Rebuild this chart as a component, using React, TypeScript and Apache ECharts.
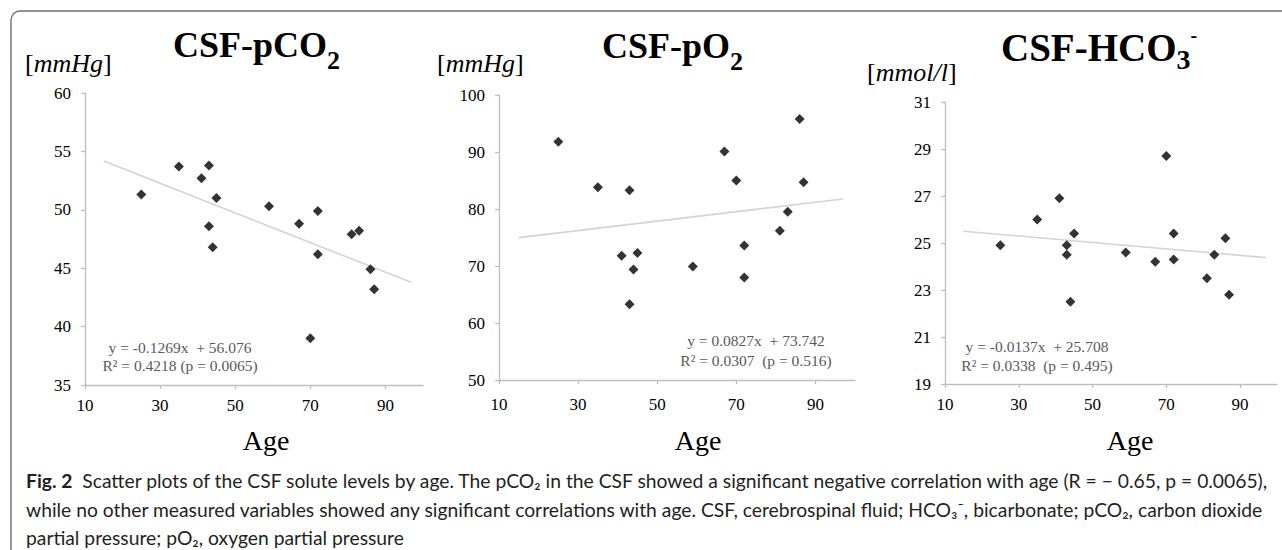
import React, { useEffect, useRef } from "react";
import * as echarts from "echarts";

// ---- data ----
const ages = [25, 35, 41, 43, 43, 44, 45, 59, 67, 70, 72, 72, 81, 83, 86, 87];
const pco2 = [51.3, 53.7, 52.7, 53.8, 48.6, 46.8, 51.0, 50.3, 48.8, 39.0, 49.9, 46.2, 47.9, 48.2, 44.9, 43.2];
const po2 = [91.8, 83.8, 71.8, 83.3, 63.3, 69.4, 72.3, 69.9, 90.1, 85.0, 73.6, 68.0, 76.2, 79.5, 95.8, 84.7];
const hco3 = [24.9, 26.0, 26.9, 24.9, 24.5, 22.5, 25.4, 24.6, 24.2, 28.7, 25.4, 24.3, 23.5, 24.5, 25.2, 22.8];

const xTicks = [10, 30, 50, 70, 90];
const yMins = [35, 50, 19];
const yMaxs = [60, 100, 31];
const yIntervals = [5, 10, 2];

const trendAges = [15, 97];
const slopes = [-0.1269, 0.0827, -0.0137];
const intercepts = [56.076, 73.742, 25.708];

const eqLine1 = ["y = -0.1269x  + 56.076", "y = 0.0827x  + 73.742", "y = -0.0137x  + 25.708"];
const eqLine2 = ["R² = 0.4218 (p = 0.0065)", "R² = 0.0307  (p = 0.516)", "R² = 0.0338  (p = 0.495)"];

// title pieces: [text, kind] where kind = m (main) / s (subscript) / p (superscript)
const titleParts: [string, string][][] = [
  [["CSF-pCO", "m"], ["2", "s"]],
  [["CSF-pO", "m"], ["2", "s"]],
  [["CSF-HCO", "m"], ["3", "s"], ["-", "p"]],
];
const units = ["{n|[}{i|mmHg}{n|]}", "{n|[}{i|mmHg}{n|]}", "{n|[}{i|mmol/l}{n|]}"];
const xName = "Age";

const captionLines = [
  "{b|Fig. 2}  Scatter plots of the CSF solute levels by age. The pCO₂ in the CSF showed a significant negative correlation with age (R = − 0.65, p = 0.0065),",
  "while no other measured variables showed any significant correlations with age. CSF, cerebrospinal fluid; HCO₃⁻, bicarbonate; pCO₂, carbon dioxide",
  "partial pressure; pO₂, oxygen partial pressure",
];

const seriesValues = [pco2, po2, hco3];

// ---- layout ----
const grids = [
  { left: 85, top: 93, width: 338, height: 292 },
  { left: 499, top: 95, width: 356, height: 285 },
  { left: 945, top: 102, width: 332, height: 282 },
];
const xLabelMargins = [12, 16, 12];
const titlePos = [
  [173, 45],
  [602, 46],
  [1001, 47],
];
const titleSizes = [
  { m: 36, s: 26, p: 20, sdy: 15, pdy: -10 },
  { m: 36, s: 26, p: 20, sdy: 15, pdy: -10 },
  { m: 39, s: 28, p: 20, sdy: 12, pdy: -12 },
];
const unitPos = [
  [25, 63],
  [437, 63],
  [867, 72],
];
const eqPos = [
  [180, 347, 365],
  [756, 340, 360],
  [1037, 346, 365],
];
const agePos = [
  [266, 440],
  [698, 440],
  [1130, 440],
];
const captionY = [480, 509, 537];

const SERIF = "'Liberation Serif', 'Times New Roman', serif";
const SANS = "Lato, 'Noto Sans', 'DejaVu Sans', sans-serif";
const AXIS_COLOR = "#bfbfbf";
const CAP = 19.3;

export default function App() {
  const ref = useRef<HTMLDivElement>(null);

  useEffect(() => {
    if (!ref.current) return;
    const chart = echarts.init(ref.current, undefined, { renderer: "svg" });
    const ctx = document.createElement("canvas").getContext("2d") as CanvasRenderingContext2D;

    const xAxis = grids.map((_, i) => ({
      type: "value",
      gridIndex: i,
      min: 10,
      max: 100,
      axisLine: { show: true, lineStyle: { color: AXIS_COLOR, width: 1.3 } },
      axisTick: { show: true, length: 4, customValues: xTicks, lineStyle: { color: AXIS_COLOR, width: 1.3 } },
      axisLabel: {
        customValues: xTicks,
        margin: xLabelMargins[i],
        color: "#000",
        fontFamily: SERIF,
        fontSize: 17,
      },
      splitLine: { show: false },
    }));

    const yAxis = grids.map((_, i) => ({
      type: "value",
      gridIndex: i,
      min: yMins[i],
      max: yMaxs[i],
      interval: yIntervals[i],
      axisLine: { show: true, lineStyle: { color: AXIS_COLOR, width: 1.3 } },
      axisTick: { show: true, length: 4, lineStyle: { color: AXIS_COLOR, width: 1.3 } },
      axisLabel: { margin: 14, color: "#000", fontFamily: SERIF, fontSize: 17 },
      splitLine: { show: false },
    }));

    const series: any[] = [];
    seriesValues.forEach((vals, i) => {
      series.push({
        type: "line",
        xAxisIndex: i,
        yAxisIndex: i,
        silent: true,
        symbol: "none",
        lineStyle: { color: "#d4d4d4", width: 1.6 },
        data: trendAges.map((a) => [a, slopes[i] * a + intercepts[i]]),
        z: 1,
      });
      series.push({
        type: "scatter",
        xAxisIndex: i,
        yAxisIndex: i,
        symbol: "diamond",
        symbolSize: 10,
        itemStyle: { color: "#000" },
        data: ages.map((a, j) => [a, vals[j]]),
        z: 2,
      });
    });

    const graphic: any[] = [];
    // frame
    graphic.push({
      type: "rect",
      shape: { x: 11, y: 11, width: 1400, height: 700, r: 9 },
      style: { fill: "none", stroke: "#6f6f6f", lineWidth: 1.4 },
      silent: true,
    });
    grids.forEach((_, i) => {
      // title with sub/superscripts
      let x = titlePos[i][0];
      const sz = titleSizes[i] as any;
      titleParts[i].forEach(([t, kind]) => {
        const size = sz[kind];
        const dy = kind === "s" ? sz.sdy : kind === "p" ? sz.pdy : 0;
        ctx.font = `normal bold ${size}px ${SERIF}`;
        const w = ctx.measureText(t).width;
        graphic.push({
          type: "text",
          x,
          y: titlePos[i][1] + dy,
          silent: true,
          style: {
            text: t,
            align: "left",
            verticalAlign: "middle",
            fontFamily: SERIF,
            fontSize: size,
            fontWeight: "bold",
            fill: "#000",
          },
        });
        x += w;
      });
      graphic.push({
        type: "text",
        x: unitPos[i][0],
        y: unitPos[i][1],
        style: {
          text: units[i],
          align: "left",
          verticalAlign: "middle",
          rich: {
            n: { fontFamily: SERIF, fontSize: 26, lineHeight: 26, fill: "#000" },
            i: { fontFamily: SERIF, fontStyle: "italic", fontSize: 26, lineHeight: 26, fill: "#000" },
          },
        },
      });
      [1, 2].forEach((k) => {
        graphic.push({
          type: "text",
          x: eqPos[i][0],
          y: eqPos[i][k],
          style: {
            text: k === 1 ? eqLine1[i] : eqLine2[i],
            align: "center",
            verticalAlign: "middle",
            fontFamily: SERIF,
            fontSize: 15.5,
            fill: "#595959",
          },
        });
      });
      graphic.push({
        type: "text",
        x: agePos[i][0],
        y: agePos[i][1],
        style: {
          text: xName,
          align: "center",
          verticalAlign: "middle",
          fontFamily: SERIF,
          fontSize: 28,
          fill: "#000",
        },
      });
    });
    captionLines.forEach((line, k) => {
      graphic.push({
        type: "text",
        x: 26,
        y: captionY[k],
        silent: true,
        style: {
          text: line,
          align: "left",
          verticalAlign: "middle",
          fontFamily: SANS,
          fontSize: CAP,
          lineHeight: 20,
          fill: "#231f20",
          rich: {
            b: { fontFamily: SANS, fontWeight: "bold", fontSize: CAP, lineHeight: 20, fill: "#231f20" },
          },
        },
      });
    });

    chart.setOption({
      animation: false,
      backgroundColor: "#fff",
      grid: grids.map((g) => ({ ...g, containLabel: false })),
      xAxis,
      yAxis,
      series,
      graphic,
    });

    return () => chart.dispose();
  }, []);

  return (
    <div
      ref={ref}
      style={{ position: "absolute", left: 0, top: 0, width: 1282, height: 550, background: "#fff" }}
    />
  );
}
